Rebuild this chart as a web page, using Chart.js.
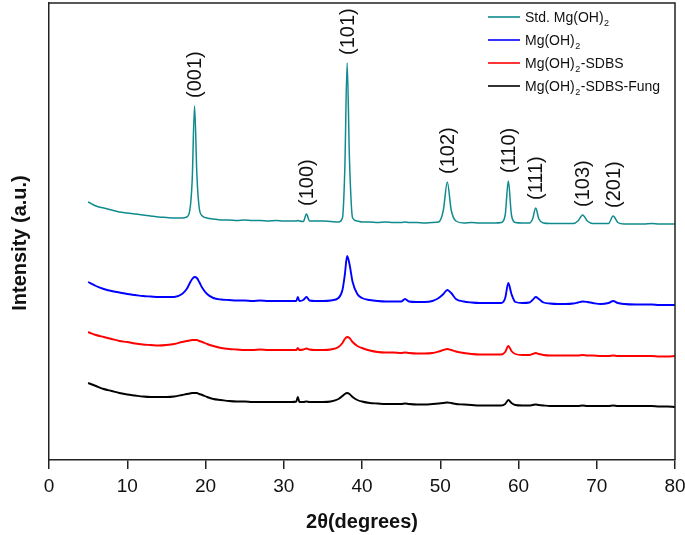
<!DOCTYPE html>
<html>
<head>
<meta charset="utf-8">
<script src="https://cdn.jsdelivr.net/npm/chart.js@4.4.1/dist/chart.umd.min.js"></script>
<style>
  body { margin: 0; background: #fff; }
  #chart { display: block; }
</style>
</head>
<body>
<canvas id="chart" width="685" height="535"></canvas>
<script>
// 2theta positions (degrees)
var twoTheta = [5, 6, 7, 8, 9, 10, 11, 12, 13, 14, 15, 16, 17, 17.6, 18.0, 18.3, 18.6, 18.9, 19.2, 19.6,
  20.2, 21, 22, 23, 24, 25, 26, 27, 28, 29, 30, 31, 31.6, 31.8, 32.0, 32.5, 32.9, 33.3, 34, 35,
  36, 37, 37.5, 37.8, 38.1, 38.4, 38.8, 39.4, 40, 41, 42, 43, 44, 45, 45.5, 46, 47, 48, 49, 49.8,
  50.4, 50.9, 51.4, 52, 53, 54, 55, 56, 57, 57.8, 58.3, 58.7, 59.1, 59.6, 60.5, 61.4, 61.8, 62.2, 62.6, 63.2,
  64, 65, 66, 67, 67.6, 68.2, 68.8, 69.5, 70.5, 71.5, 72.1, 72.7, 73.5, 75, 76, 77, 78, 79, 80];

// intensities (a.u., stacked with offsets as in the figure)
var stdMgOH2 = [258, 254, 252, 250, 248, 247, 246, 245, 244, 243, 242.5, 242, 242, 243, 250, 280, 354, 285, 252, 244,
  242, 241, 240, 240, 239.5, 240, 239.5, 239.5, 239, 239.5, 239, 239, 239, 239.5, 239, 238.5, 246, 239, 239, 239,
  238.5, 238, 242, 290, 397, 300, 242, 239, 238, 238, 237.5, 238, 237.5, 237.5, 238, 237.5, 237.5, 237, 237.5, 238,
  250, 278, 250, 239, 237, 237.5, 237, 237, 237, 237.5, 245, 279, 245, 237.5, 237, 237, 241, 252, 241, 237,
  236.5, 236.5, 236.5, 236.5, 239, 245, 239, 236.5, 236.5, 236.5, 244, 237.5, 236, 236, 236, 236.5, 236, 236, 236];

var mgOH2 = [178, 174, 171, 169, 167.5, 166, 165, 164, 163.5, 163, 163, 163, 166, 171, 177, 181, 183, 182, 178, 172,
  166, 162, 160.5, 160, 159.5, 159.5, 159, 159.5, 159, 159, 159, 159, 159, 163, 159, 160, 163, 159.5, 159, 159,
  159.5, 162, 170, 185, 204, 196, 178, 166, 162, 160, 159, 158.5, 158.5, 158.5, 161, 158.5, 158, 158, 159, 162,
  166, 170, 167, 161, 158.5, 157.5, 157, 157, 157, 157, 162, 177, 166, 158, 157, 157.5, 160, 163, 161, 157.5,
  156.5, 156, 156, 156.5, 157.5, 158.5, 158, 157, 156, 157, 159, 157, 156, 155.5, 155.5, 155.5, 155, 155, 155];

var mgOH2SDBS = [128, 125, 123, 121, 119, 118, 116.5, 115.5, 115, 114.5, 115, 116, 118, 119, 119.5, 120, 120, 120, 119, 118,
  116, 114, 112, 111, 110.5, 110, 110, 110.5, 110, 110, 110, 110, 110, 112, 110, 110.5, 111.5, 110.5, 110, 110,
  110.5, 113, 117, 121, 123, 122, 118, 114, 112, 109.5, 108, 107.5, 107.5, 107, 107.5, 107, 106.5, 106.5, 107, 108.5,
  110, 111, 110, 108.5, 107, 106, 105.5, 105.5, 105.5, 105.5, 108, 114, 109, 106, 105, 105, 106, 107, 106, 105,
  104.5, 104.5, 104.5, 104.5, 104.5, 105, 104.5, 104.5, 104, 104, 104.5, 104, 104, 104, 104, 104, 103.5, 103.5, 104];

var mgOH2SDBSFung = [77, 74, 71, 69, 67, 65.5, 64.5, 63.5, 63, 63, 63, 63.5, 65, 66, 66.5, 67, 67, 67, 66, 65,
  63, 61, 60, 59, 58.5, 58.5, 58, 58, 58, 58, 58, 58, 58.5, 63, 58, 58, 58.5, 58, 58, 58,
  58.5, 61, 64, 66, 67, 66, 63, 60, 58.5, 57, 56.5, 56, 56, 56, 56.5, 56, 55.5, 55.5, 56, 56.5,
  57, 57.5, 57, 56, 55.5, 55, 54.5, 54.5, 54.5, 54.5, 56, 60, 57, 55, 54.5, 54.5, 55, 55.5, 55, 54.5,
  54, 54, 54, 54, 54, 54.5, 54, 54, 54, 54, 54.5, 54, 54, 54, 54, 54, 53.5, 53.5, 53];

var seriesNames = ['Std. Mg(OH)2', 'Mg(OH)2', 'Mg(OH)2-SDBS', 'Mg(OH)2-SDBS-Fung'];
var seriesColors = ['#108b8d', '#0000ff', '#ff0000', '#000000'];
var seriesWidths = [1.5, 1.9, 1.9, 1.9];

// reflections of the standard pattern
var peakLabels = ['(001)', '(100)', '(101)', '(102)', '(110)', '(111)', '(103)', '(201)'];
var peakPositions = [18.6, 32.9, 38.1, 50.9, 58.7, 62.2, 68.2, 72.1];

var fontFamily = '"Liberation Sans", Arial, Helvetica, sans-serif';

function makeSet(i, values) {
  var pts = [];
  for (var k = 0; k < twoTheta.length; k++) {
    pts.push({ x: twoTheta[k], y: values[k] });
  }
  return {
    label: seriesNames[i],
    data: pts,
    borderColor: seriesColors[i],
    borderWidth: seriesWidths[i],
    pointRadius: 0,
    cubicInterpolationMode: 'monotone',
    fill: false
  };
}

var data = {
  datasets: [
    makeSet(0, stdMgOH2),
    makeSet(1, mgOH2),
    makeSet(2, mgOH2SDBS),
    makeSet(3, mgOH2SDBSFung)
  ]
};

// draws text where the "2" after "(OH)" is written as a subscript
function drawSubText(ctx, text, x, y, size) {
  var parts = text.split('(OH)2');
  ctx.textAlign = 'left';
  ctx.textBaseline = 'alphabetic';
  var cx = x;
  for (var i = 0; i < parts.length; i++) {
    var seg = parts[i];
    if (i < parts.length - 1) seg += '(OH)';
    ctx.font = size + 'px ' + fontFamily;
    ctx.fillText(seg, cx, y);
    cx += ctx.measureText(seg).width;
    if (i < parts.length - 1) {
      ctx.font = Math.round(size * 0.62) + 'px ' + fontFamily;
      ctx.fillText('2', cx + 0.5, y + 4);
      cx += ctx.measureText('2').width + 1;
    }
  }
}

var extras = {
  id: 'extras',
  afterDraw: function (chart) {
    var ctx = chart.ctx;
    var area = chart.chartArea;
    var xs = chart.scales.x;
    var ys = chart.scales.y;
    ctx.save();

    // frame top and right
    ctx.strokeStyle = '#222';
    ctx.lineWidth = 1.5;
    ctx.beginPath();
    ctx.moveTo(area.left, area.top);
    ctx.lineTo(area.right, area.top);
    ctx.lineTo(area.right, area.bottom);
    ctx.stroke();

    // peak labels, just above the standard pattern's peaks
    ctx.fillStyle = '#111';
    ctx.font = '20px ' + fontFamily;
    ctx.textAlign = 'left';
    ctx.textBaseline = 'middle';
    for (var i = 0; i < peakLabels.length; i++) {
      var k = twoTheta.indexOf(peakPositions[i]);
      var px = xs.getPixelForValue(peakPositions[i]);
      var py = ys.getPixelForValue(stdMgOH2[k]) - 8;
      ctx.save();
      ctx.translate(px, py);
      ctx.rotate(-Math.PI / 2);
      ctx.fillText(peakLabels[i], 0, 1);
      ctx.restore();
    }

    // legend
    var rowY = [17, 40, 63, 86];
    for (var j = 0; j < seriesNames.length; j++) {
      ctx.strokeStyle = seriesColors[j];
      ctx.lineWidth = 1.6;
      ctx.beginPath();
      ctx.moveTo(488, rowY[j]);
      ctx.lineTo(520, rowY[j]);
      ctx.stroke();
      ctx.fillStyle = '#111';
      drawSubText(ctx, seriesNames[j], 525, rowY[j] + 5, 14);
    }

    // y axis title
    ctx.save();
    ctx.translate(20, 243);
    ctx.rotate(-Math.PI / 2);
    ctx.font = 'bold 20px ' + fontFamily;
    ctx.fillStyle = '#111';
    ctx.textAlign = 'center';
    ctx.textBaseline = 'middle';
    ctx.fillText('Intensity (a.u.)', 0, 0);
    ctx.restore();

    ctx.restore();
  }
};

var options = {
  responsive: false,
  animation: false,
  layout: { padding: { top: 3, right: 4, left: 0, bottom: 0 } },
  plugins: {
    legend: { display: false },
    tooltip: { enabled: false }
  },
  scales: {
    x: {
      type: 'linear',
      min: 0,
      max: 80,
      afterFit: function (scale) {
        scale.height = 75;
        scale.paddingRight = 10;
      },
      border: { color: '#222', width: 1.5 },
      grid: { drawOnChartArea: false, drawTicks: true, tickLength: 9, tickColor: '#222', lineWidth: 1.5 },
      ticks: { stepSize: 10, color: '#111', padding: 6, font: { family: fontFamily, size: 19 } },
      title: {
        display: true,
        text: '2θ(degrees)',
        color: '#111',
        padding: { top: 0, bottom: 1 },
        font: { family: fontFamily, size: 20, weight: 'bold' }
      }
    },
    y: {
      min: 0,
      max: 457,
      afterFit: function (scale) { scale.width = 49; },
      border: { color: '#222', width: 1.5 },
      grid: { display: false },
      ticks: { display: false }
    }
  }
};

var ctx = document.getElementById('chart').getContext('2d');
var myChart = new Chart(ctx, {
  type: 'line',
  data: data,
  options: options,
  plugins: [extras]
});
</script>
</body>
</html>
